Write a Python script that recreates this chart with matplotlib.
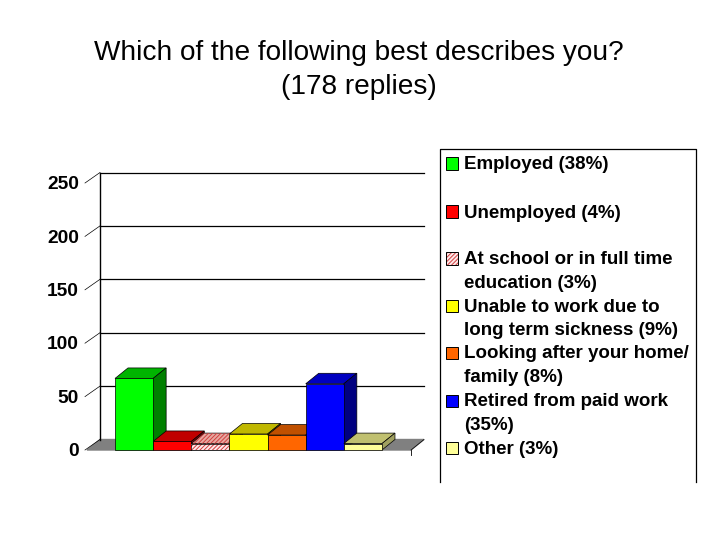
import matplotlib
matplotlib.use("Agg")
import matplotlib.pyplot as plt

plt.rcParams['font.family'] = ['Liberation Sans', 'DejaVu Sans']
plt.rcParams['hatch.linewidth'] = 0.7

# data
values = [67, 8, 6, 15, 14, 62, 6]
front_colors = ['#00ff00', '#ff0000', '#ffd8d8', '#ffff00', '#ff6600', '#0000ff', '#ffff99']
top_colors = ['#00b400', '#c00000', '#e8a8a0', '#c0b800', '#c05000', '#0000c0', '#c0c070']
side_colors = ['#008000', '#800000', '#a06060', '#808000', '#803000', '#000080', '#a0a060']
y_ticks = [0, 50, 100, 150, 200, 250]
legend_labels = ['Employed (38%)', 'Unemployed (4%)', 'At school or in full time\neducation (3%)',
                 'Unable to work due to\nlong term sickness (9%)', 'Looking after your home/\nfamily (8%)',
                 'Retired from paid work\n(35%)', 'Other (3%)']
legend_y = [164.5, 212.5, 259.5, 306.5, 353.5, 401.5, 448.5]
title_lines = ['Which of the following best describes you?', '(178 replies)']
title_y = [53.5, 87.5]

# scales: one category = 38.14 px, one reply = 1.068 px, front plane zero at (115, 450)
px_x = 38.14
px_y = 1.068
dx = 13 / px_x
dy = 10.5 / px_y

fig = plt.figure(figsize=(7.2, 5.4), dpi=100)
ax = fig.add_axes([0, 0, 1, 1])
ax.set_xlim(-115 / px_x, (720 - 115) / px_x)
ax.set_ylim(-(540 - 450) / px_y, 450 / px_y)
ax.axis('off')

left = -28 / px_x
right = 296 / px_x

# floor
ax.fill([left, left + dx, right + dx, right], [0, dy, dy, 0], color='#808080', zorder=1)
ax.plot([right, right + dx], [0, dy], color='black', lw=0.5, zorder=1)
ax.plot([right, right], [0, -5 / px_y], color='black', lw=0.6, zorder=1)

# back wall and ticks
ax.plot([left + dx, left + dx], [dy, 250 + dy], color='black', lw=1.0, zorder=1)
for t in y_ticks:
    if t > 0:
        ax.plot([left + dx, right + dx], [t + dy, t + dy], color='black', lw=0.9, zorder=1)
    ax.plot([left - 2 / px_x, left + dx], [t, t + dy], color='black', lw=0.5, zorder=1)
    ax.text(left - 8 / px_x, t - 1.5, str(t), ha='right', va='center', fontsize=13.8, fontweight='bold', zorder=2)

# bars, left to right so that each one covers the side of the one before
for i, v in enumerate(values):
    z = 3 + i
    xr = i + 1
    ax.fill([i, i + dx, xr + dx, xr], [v, v + dy, v + dy, v], facecolor=top_colors[i],
            edgecolor='black', lw=0.5, zorder=z)
    ax.fill([xr, xr + dx, xr + dx, xr], [0, dy, v + dy, v], facecolor=side_colors[i],
            edgecolor='black', lw=0.5, zorder=z)
    if i == 2:
        ax.bar(i, v, width=1, align='edge', facecolor='#ffe8e8', edgecolor='#d04040',
               hatch='////////', lw=0, zorder=z)
        ax.fill([i, i + dx, xr + dx, xr], [v, v + dy, v + dy, v], facecolor='none',
                edgecolor='#d04040', hatch='////////', lw=0, zorder=z)
        ax.bar(i, v, width=1, align='edge', facecolor='none', edgecolor='black', lw=0.5, zorder=z)
    else:
        ax.bar(i, v, width=1, align='edge', color=front_colors[i], edgecolor='black', lw=0.5, zorder=z)

# title
for line, y in zip(title_lines, title_y):
    fig.text(359 / 720, 1 - y / 540, line, ha='center', va='center', fontsize=20.2)

# legend box, its bottom edge is cut off in the reference
fig.add_artist(plt.Line2D([440 / 720, 440 / 720, 696 / 720, 696 / 720],
                          [1 - 482 / 540, 1 - 149 / 540, 1 - 149 / 540, 1 - 482 / 540], color='black', lw=0.9))
for i, label in enumerate(legend_labels):
    y = legend_y[i]
    fig.text(464 / 720, 1 - (y - 8) / 540, label, ha='left', va='top', fontsize=13.5,
             fontweight='bold', linespacing=1.5)
    box = (446 / 720, 1 - (y + 5) / 540)
    if i == 2:
        fig.add_artist(plt.Rectangle(box, 12 / 720, 12 / 540, transform=fig.transFigure,
                                     facecolor='#ffe8e8', edgecolor='#d04040', hatch='////////', lw=0))
        fig.add_artist(plt.Rectangle(box, 12 / 720, 12 / 540, transform=fig.transFigure,
                                     facecolor='none', edgecolor='black', lw=0.7))
    else:
        fig.add_artist(plt.Rectangle(box, 12 / 720, 12 / 540, transform=fig.transFigure,
                                     facecolor=front_colors[i], edgecolor='black', lw=0.7))

fig.savefig('out.png', dpi=100)
